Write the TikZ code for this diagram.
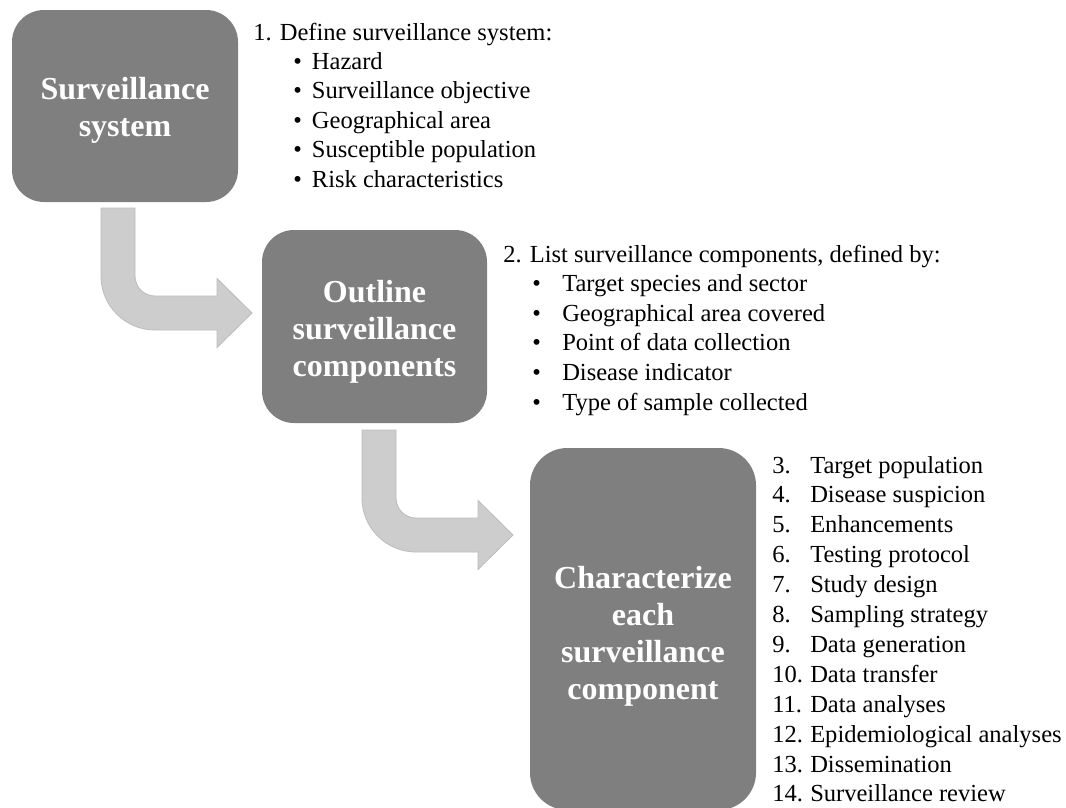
\documentclass[tikz,border=0pt]{standalone}
\usepackage{fontspec}
\setmainfont{Liberation Serif}
\definecolor{boxgray}{RGB}{127,127,127}
\definecolor{arrowfill}{RGB}{205,205,205}
\definecolor{arrowedge}{RGB}{188,188,188}
\tikzset{
  stepbox/.style={fill=boxgray, inner sep=0pt, rounded corners=24pt},
  boxtext/.style={text=white, font=\fontsize{24}{27.75}\selectfont\bfseries, align=center, inner sep=0pt},
  lst/.style={font=\fontsize{18.4}{22}\selectfont, anchor=base west, inner sep=0pt},
  bendarrow/.style={fill=arrowfill, draw=arrowedge, line width=0.6pt},
}
\newcommand\bendarr[2]{%
  \begin{scope}[shift={(#1,#2)}]
    \draw[bendarrow] (101,208) -- (101,276)
      arc[start angle=180, end angle=90, radius=54]
      -- (217,330) -- (217,347.5) -- (252,313) -- (217,278.5) -- (217,296) -- (155,296)
      arc[start angle=90, end angle=180, radius=20]
      -- (135,208) -- cycle;
  \end{scope}}
\begin{document}
\begin{tikzpicture}[x=0.75pt,y=-0.75pt]
\useasboundingbox (0,0) rectangle (1066,807);
\clip (0,0) rectangle (1066,807);

% boxes
\node[stepbox, minimum width=169.5pt, minimum height=144pt] (b1) at (125,106) {};
\node[stepbox, minimum width=168.75pt, minimum height=144.75pt] (b2) at (374.5,326.5) {};
\node[stepbox, rounded corners=28pt, minimum width=169.5pt, minimum height=271.5pt] (b3) at (643,629) {};

\node[boxtext] (b1t) at (125,110) {Surveillance\\system};
\node[boxtext] (b2t) at (374.5,332) {Outline\\surveillance\\components};
\node[boxtext] (b3t) at (643,636) {Characterize\\each\\surveillance\\component};

% bent arrows
\bendarr{0}{0}
\bendarr{261}{222}

% list 1
\node[lst] (l1h) at (253,40) {1. Define surveillance system:};
\node[lst] (l1a) at (293,69.4) {\makebox[14pt][l]{•}Hazard};
\node[lst] (l1b) at (293,98.8) {\makebox[14pt][l]{•}Surveillance objective};
\node[lst] (l1c) at (293,128.2) {\makebox[14pt][l]{•}Geographical area};
\node[lst] (l1d) at (293,157.6) {\makebox[14pt][l]{•}Susceptible population};
\node[lst] (l1e) at (293,187) {\makebox[14pt][l]{•}Risk characteristics};

% list 2
\node[lst] (l2h) at (503,262) {2. List surveillance components, defined by:};
\node[lst] (l2a) at (532,291.6) {\makebox[22.5pt][l]{•}Target species and sector};
\node[lst] (l2b) at (532,321.2) {\makebox[22.5pt][l]{•}Geographical area covered};
\node[lst] (l2c) at (532,350.8) {\makebox[22.5pt][l]{•}Point of data collection};
\node[lst] (l2d) at (532,380.4) {\makebox[22.5pt][l]{•}Disease indicator};
\node[lst] (l2e) at (532,410) {\makebox[22.5pt][l]{•}Type of sample collected};

% list 3
\node[lst] (l3a) at (772,473) {\makebox[28.5pt][l]{3.}Target population};
\node[lst] (l3b) at (772,502.9) {\makebox[28.5pt][l]{4.}Disease suspicion};
\node[lst] (l3c) at (772,532.8) {\makebox[28.5pt][l]{5.}Enhancements};
\node[lst] (l3d) at (772,562.7) {\makebox[28.5pt][l]{6.}Testing protocol};
\node[lst] (l3e) at (772,592.6) {\makebox[28.5pt][l]{7.}Study design};
\node[lst] (l3f) at (772,622.5) {\makebox[28.5pt][l]{8.}Sampling strategy};
\node[lst] (l3g) at (772,652.4) {\makebox[28.5pt][l]{9.}Data generation};
\node[lst] (l3h) at (772,682.3) {\makebox[28.5pt][l]{10.}Data transfer};
\node[lst] (l3i) at (772,712.2) {\makebox[28.5pt][l]{11.}Data analyses};
\node[lst] (l3j) at (772,742.1) {\makebox[28.5pt][l]{12.}Epidemiological analyses};
\node[lst] (l3k) at (772,772) {\makebox[28.5pt][l]{13.}Dissemination};
\node[lst] (l3l) at (772,801.9) {\makebox[28.5pt][l]{14.}Surveillance review};
\end{tikzpicture}
\end{document}
